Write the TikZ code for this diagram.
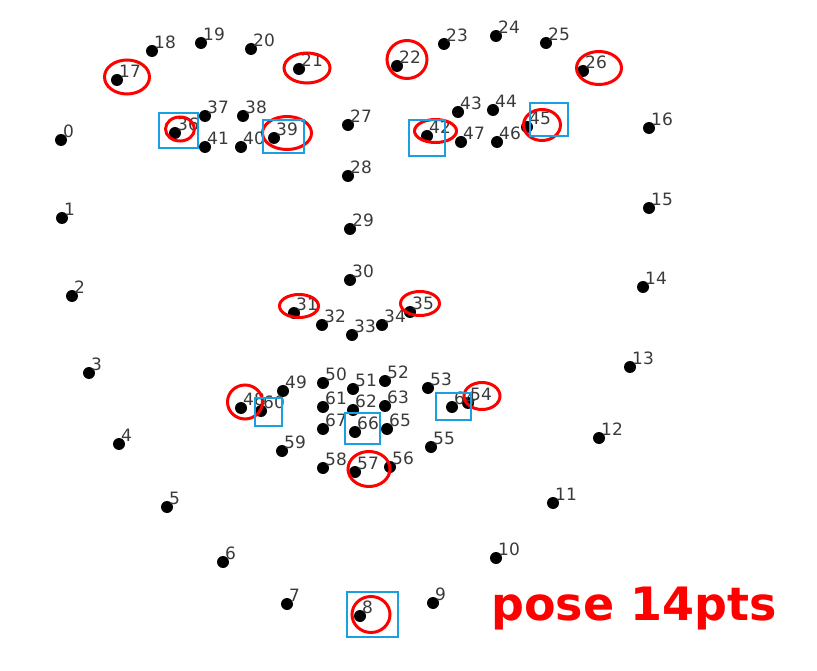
\documentclass[tikz,border=0pt]{standalone}
\usepackage{fontspec}
\setmainfont{DejaVu Sans}
\usepackage{xcolor}
\definecolor{ink}{HTML}{3A3A3A}
\definecolor{mark}{HTML}{FF0000}
\definecolor{boxblue}{HTML}{1A9FE0}
\usepackage{tikz}
\usetikzlibrary{positioning}
\tikzset{
    lmk/.style={circle, fill=black, inner sep=0pt, minimum size=12pt},
    num/.style={anchor=base west, inner sep=0pt, xshift=2pt, yshift=2.5pt, text=ink, font=\fontsize{17}{20}\selectfont},
    ring/.style={draw=mark, line width=3pt},
    pick/.style={draw=boxblue, line width=2pt},
    tag/.style={anchor=base west, inner sep=0pt, text=mark, font=\fontsize{46}{54}\selectfont\bfseries}
}

\begin{document}
\begin{tikzpicture}[x=1pt, y=-1pt]
  \useasboundingbox (0,0) rectangle (817,671);

  % Jaw line
  \node[lmk] (p0) at (61,140) {};   \node[num] (t0) at (p0) {0};
  \node[lmk] (p1) at (62,218) {};   \node[num] (t1) at (p1) {1};
  \node[lmk] (p2) at (72,296) {};   \node[num] (t2) at (p2) {2};
  \node[lmk] (p3) at (89,373) {};   \node[num] (t3) at (p3) {3};
  \node[lmk] (p4) at (119,444) {};  \node[num] (t4) at (p4) {4};
  \node[lmk] (p5) at (167,507) {};  \node[num] (t5) at (p5) {5};
  \node[lmk] (p6) at (223,562) {};  \node[num] (t6) at (p6) {6};
  \node[lmk] (p7) at (287,604) {};  \node[num] (t7) at (p7) {7};
  \node[lmk] (p8) at (360,616) {};  \node[num] (t8) at (p8) {8};
  \node[lmk] (p9) at (433,603) {};  \node[num] (t9) at (p9) {9};
  \node[lmk] (p10) at (496,558) {}; \node[num] (t10) at (p10) {10};
  \node[lmk] (p11) at (553,503) {}; \node[num] (t11) at (p11) {11};
  \node[lmk] (p12) at (599,438) {}; \node[num] (t12) at (p12) {12};
  \node[lmk] (p13) at (630,367) {}; \node[num] (t13) at (p13) {13};
  \node[lmk] (p14) at (643,287) {}; \node[num] (t14) at (p14) {14};
  \node[lmk] (p15) at (649,208) {}; \node[num] (t15) at (p15) {15};
  \node[lmk] (p16) at (649,128) {}; \node[num] (t16) at (p16) {16};

  % Eyebrows
  \node[lmk] (p17) at (117,80) {};  \node[num] (t17) at (p17) {17};
  \node[lmk] (p18) at (152,51) {};  \node[num] (t18) at (p18) {18};
  \node[lmk] (p19) at (201,43) {};  \node[num] (t19) at (p19) {19};
  \node[lmk] (p20) at (251,49) {};  \node[num] (t20) at (p20) {20};
  \node[lmk] (p21) at (299,69) {};  \node[num] (t21) at (p21) {21};
  \node[lmk] (p22) at (397,66) {};  \node[num] (t22) at (p22) {22};
  \node[lmk] (p23) at (444,44) {};  \node[num] (t23) at (p23) {23};
  \node[lmk] (p24) at (496,36) {};  \node[num] (t24) at (p24) {24};
  \node[lmk] (p25) at (546,43) {};  \node[num] (t25) at (p25) {25};
  \node[lmk] (p26) at (583,71) {};  \node[num] (t26) at (p26) {26};

  % Nose
  \node[lmk] (p27) at (348,125) {}; \node[num] (t27) at (p27) {27};
  \node[lmk] (p28) at (348,176) {}; \node[num] (t28) at (p28) {28};
  \node[lmk] (p29) at (350,229) {}; \node[num] (t29) at (p29) {29};
  \node[lmk] (p30) at (350,280) {}; \node[num] (t30) at (p30) {30};
  \node[lmk] (p31) at (294,313) {}; \node[num] (t31) at (p31) {31};
  \node[lmk] (p32) at (322,325) {}; \node[num] (t32) at (p32) {32};
  \node[lmk] (p33) at (352,335) {}; \node[num] (t33) at (p33) {33};
  \node[lmk] (p34) at (382,325) {}; \node[num] (t34) at (p34) {34};
  \node[lmk] (p35) at (410,312) {}; \node[num] (t35) at (p35) {35};

  % Eyes
  \node[lmk] (p36) at (175,133) {}; \node[num] (t36) at (p36) {36};
  \node[lmk] (p37) at (205,116) {}; \node[num] (t37) at (p37) {37};
  \node[lmk] (p38) at (243,116) {}; \node[num] (t38) at (p38) {38};
  \node[lmk] (p39) at (274,138) {}; \node[num] (t39) at (p39) {39};
  \node[lmk] (p40) at (241,147) {}; \node[num] (t40) at (p40) {40};
  \node[lmk] (p41) at (205,147) {}; \node[num] (t41) at (p41) {41};
  \node[lmk] (p42) at (427,136) {}; \node[num] (t42) at (p42) {42};
  \node[lmk] (p43) at (458,112) {}; \node[num] (t43) at (p43) {43};
  \node[lmk] (p44) at (493,110) {}; \node[num] (t44) at (p44) {44};
  \node[lmk] (p45) at (527,127) {}; \node[num] (t45) at (p45) {45};
  \node[lmk] (p46) at (497,142) {}; \node[num] (t46) at (p46) {46};
  \node[lmk] (p47) at (461,142) {}; \node[num] (t47) at (p47) {47};

  % Mouth
  \node[lmk] (p48) at (241,408) {}; \node[num] (t48) at (p48) {48};
  \node[lmk] (p49) at (283,391) {}; \node[num] (t49) at (p49) {49};
  \node[lmk] (p50) at (323,383) {}; \node[num] (t50) at (p50) {50};
  \node[lmk] (p51) at (353,389) {}; \node[num] (t51) at (p51) {51};
  \node[lmk] (p52) at (385,381) {}; \node[num] (t52) at (p52) {52};
  \node[lmk] (p53) at (428,388) {}; \node[num] (t53) at (p53) {53};
  \node[lmk] (p54) at (468,403) {}; \node[num] (t54) at (p54) {54};
  \node[lmk] (p55) at (431,447) {}; \node[num] (t55) at (p55) {55};
  \node[lmk] (p56) at (390,467) {}; \node[num] (t56) at (p56) {56};
  \node[lmk] (p57) at (355,472) {}; \node[num] (t57) at (p57) {57};
  \node[lmk] (p58) at (323,468) {}; \node[num] (t58) at (p58) {58};
  \node[lmk] (p59) at (282,451) {}; \node[num] (t59) at (p59) {59};
  \node[lmk] (p60) at (261,411) {}; \node[num] (t60) at (p60) {60};
  \node[lmk] (p61) at (323,407) {}; \node[num] (t61) at (p61) {61};
  \node[lmk] (p62) at (353,410) {}; \node[num] (t62) at (p62) {62};
  \node[lmk] (p63) at (385,406) {}; \node[num] (t63) at (p63) {63};
  \node[lmk] (p64) at (452,407) {}; \node[num] (t64) at (p64) {64};
  \node[lmk] (p65) at (387,429) {}; \node[num] (t65) at (p65) {65};
  \node[lmk] (p66) at (355,432) {}; \node[num] (t66) at (p66) {66};
  \node[lmk] (p67) at (323,429) {}; \node[num] (t67) at (p67) {67};

  % Red rings round the 14 pose points
  \draw[ring] (127,77) ellipse (22.5 and 17);
  \draw[ring] (307,68) ellipse (23 and 15);
  \draw[ring] (407,59.5) ellipse (20 and 19);
  \draw[ring] (599,68) ellipse (22.5 and 16.5);
  \draw[ring] (180,129) ellipse (14.5 and 12);
  \draw[ring] (287,133) ellipse (24.5 and 16.5);
  \draw[ring] (435.5,131) ellipse (21 and 11.5);
  \draw[ring] (542,125) ellipse (18.5 and 15.5);
  \draw[ring] (299,306) ellipse (19.5 and 11.5);
  \draw[ring] (420,303.5) ellipse (19.5 and 12);
  \draw[ring] (245,402) ellipse (17.5 and 17);
  \draw[ring] (482,396) ellipse (18 and 13.5);
  \draw[ring] (369,469) ellipse (21 and 17.5);
  \draw[ring] (371,614.5) ellipse (19 and 18);

  % Blue boxes
  \draw[pick] (159,113) rectangle (198,148);
  \draw[pick] (263,120) rectangle (304,153);
  \draw[pick] (409,120) rectangle (445,156);
  \draw[pick] (530,103) rectangle (568,136);
  \draw[pick] (255,398) rectangle (282,426);
  \draw[pick] (345,413) rectangle (380,444);
  \draw[pick] (436,393) rectangle (471,420);
  \draw[pick] (347,592) rectangle (398,637);

  \node[tag] (title) at (491,620) {pose 14pts};
\end{tikzpicture}
\end{document}
